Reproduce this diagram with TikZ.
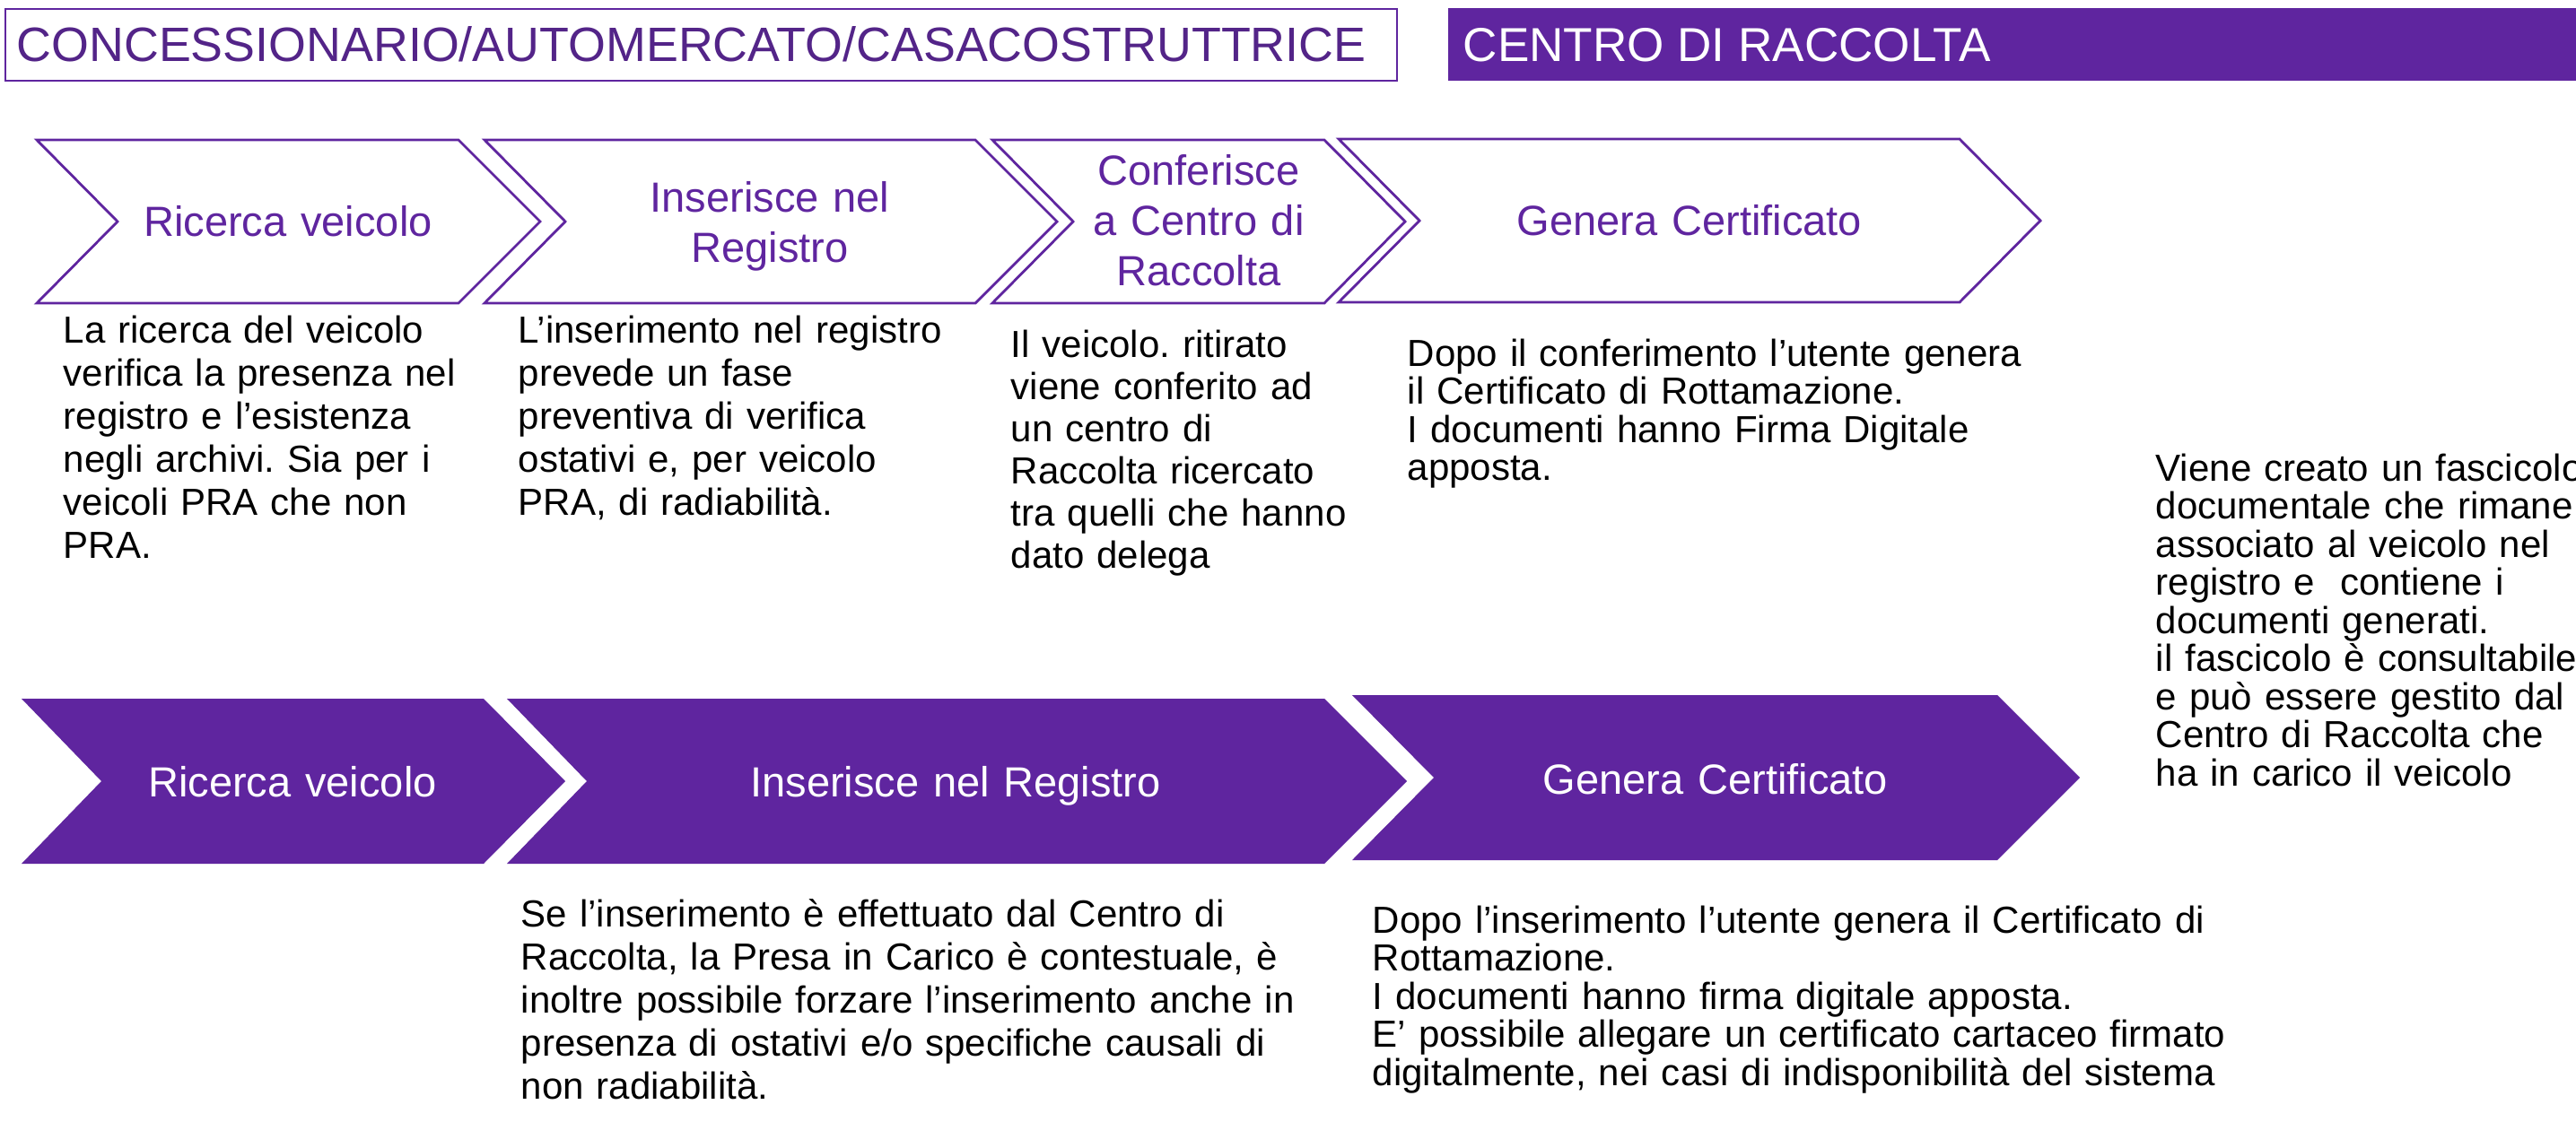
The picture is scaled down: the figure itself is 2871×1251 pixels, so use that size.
\documentclass[tikz,border=0pt]{standalone}
\usepackage{fontspec}
\setmainfont{Liberation Sans}
\frenchspacing
\definecolor{vio}{HTML}{5F259F}
\definecolor{viodark}{HTML}{532488}
\newcommand\fsHead{\fontsize{15.1pt}{17pt}\selectfont}
\newcommand\fsHeadB{\fontsize{15.3pt}{17pt}\selectfont}
\newcommand\fsLab{\fontsize{13.37pt}{15.93pt}\selectfont}
\newcommand\fsBodyW{\fontsize{11.95pt}{13.66pt}\selectfont}
\newcommand\fsBodyM{\fontsize{11.95pt}{13.37pt}\selectfont}
\newcommand\fsBodyN{\fontsize{11.95pt}{12.1pt}\selectfont}
\tikzset{
  outl/.style={draw=vio, line width=0.8pt, fill=white, line join=miter},
  solid chev/.style={fill=vio, draw=none},
  toplab/.style={anchor=base, inner sep=0pt, text width=5cm, align=center, text=vio, font=\fsLab},
  botlab/.style={anchor=base, inner sep=0pt, text width=8cm, align=center, text=white, font=\fsLab},
  bodyW/.style={anchor=base west, inner sep=0pt, text width=16cm, align=left, font=\fsBodyW},
  bodyM/.style={anchor=base west, inner sep=0pt, text width=16cm, align=left, font=\fsBodyM},
  bodyN/.style={anchor=base west, inner sep=0pt, text width=16cm, align=left, font=\fsBodyN},
  headtxt/.style={anchor=base west, inner sep=0pt, font=\fsHead},
}
\begin{document}
\begin{tikzpicture}[x=0.01cm, y=-0.01cm]
\clip (0,0) rectangle (2871,1251);
\fill[white] (0,0) rectangle (2871,1251);

% headers
\draw[draw=vio, line width=0.8pt] (6,10) rectangle (1557,90);
\node[headtxt, text=viodark, font=\fsHeadB] (h1) at (18,68) {CONCESSIONARIO/AUTOMERCATO/CASACOSTRUTTRICE};
\fill[vio] (1614,9) rectangle (2880,90);
\node[headtxt, text=white] (h2) at (1630,68) {CENTRO DI RACCOLTA};

% top chevrons (outlined)
\draw[outl] (41,156) -- (511,156) -- (602,247) -- (511,338) -- (41,338) -- (131,247) -- cycle;
\draw[outl] (540,156) -- (1087,156) -- (1178,247) -- (1087,338) -- (540,338) -- (630,247) -- cycle;
\draw[outl] (1106,156) -- (1476,156) -- (1566,247) -- (1476,338) -- (1106,338) -- (1196,247) -- cycle;
\draw[outl] (1492,155) -- (2184,155) -- (2274,246) -- (2184,337) -- (1492,337) -- (1582,246) -- cycle;

\node[toplab] (t1) at (321,263) {Ricerca veicolo};
\node[toplab] (t2) at (858,236) {Inserisce nel\\Registro};
\node[toplab] (t3) at (1336,206) {Conferisce\\a Centro di\\Raccolta};
\node[toplab] (t4) at (1883,262) {Genera Certificato};

% top descriptions
\node[bodyW] (d1) at (70,382) {La ricerca del veicolo\\verifica la presenza nel\\registro e l’esistenza\\negli archivi. Sia per i\\veicoli PRA che non\\PRA.};
\node[bodyW] (d2) at (577,382) {L’inserimento nel registro\\prevede un fase\\preventiva di verifica\\ostativi e, per veicolo\\PRA, di radiabilità.};
\node[bodyM] (d3) at (1126,398) {Il veicolo. ritirato\\viene conferito ad\\un centro di\\Raccolta ricercato\\tra quelli che hanno\\dato delega};
\node[bodyN] (d4) at (1568,408) {Dopo il conferimento l’utente genera\\il Certificato di Rottamazione.\\I documenti hanno Firma Digitale\\apposta.};

% right description
\node[bodyN] (d5) at (2402,536) {Viene creato un fascicolo\\documentale che rimane\\associato al veicolo nel\\registro e\ \ contiene i\\documenti generati.\\il fascicolo è consultabile\\e può essere gestito dal\\Centro di Raccolta che\\ha in carico il veicolo};

% bottom chevrons (filled)
\fill[solid chev] (24,779) -- (539,779) -- (630,871) -- (539,963) -- (24,963) -- (113,871) -- cycle;
\fill[solid chev] (565,779) -- (1476,779) -- (1568,871) -- (1476,963) -- (565,963) -- (654,871) -- cycle;
\fill[solid chev] (1507,775) -- (2226,775) -- (2318,867) -- (2226,959) -- (1507,959) -- (1598,867) -- cycle;

\node[botlab] (b1) at (326,888) {Ricerca veicolo};
\node[botlab] (b2) at (1065,888) {Inserisce nel Registro};
\node[botlab] (b3) at (1912,885) {Genera Certificato};

% bottom descriptions
\node[bodyW] (d6) at (580,1033) {Se l’inserimento è effettuato dal Centro di\\Raccolta, la Presa in Carico è contestuale, è\\inoltre possibile forzare l’inserimento anche in\\presenza di ostativi e/o specifiche causali di\\non radiabilità.};
\node[bodyN] (d7) at (1529,1040) {Dopo l’inserimento l’utente genera il Certificato di\\Rottamazione.\\I documenti hanno firma digitale apposta.\\E’ possibile allegare un certificato cartaceo firmato\\digitalmente, nei casi di indisponibilità del sistema};
\end{tikzpicture}
\end{document}
